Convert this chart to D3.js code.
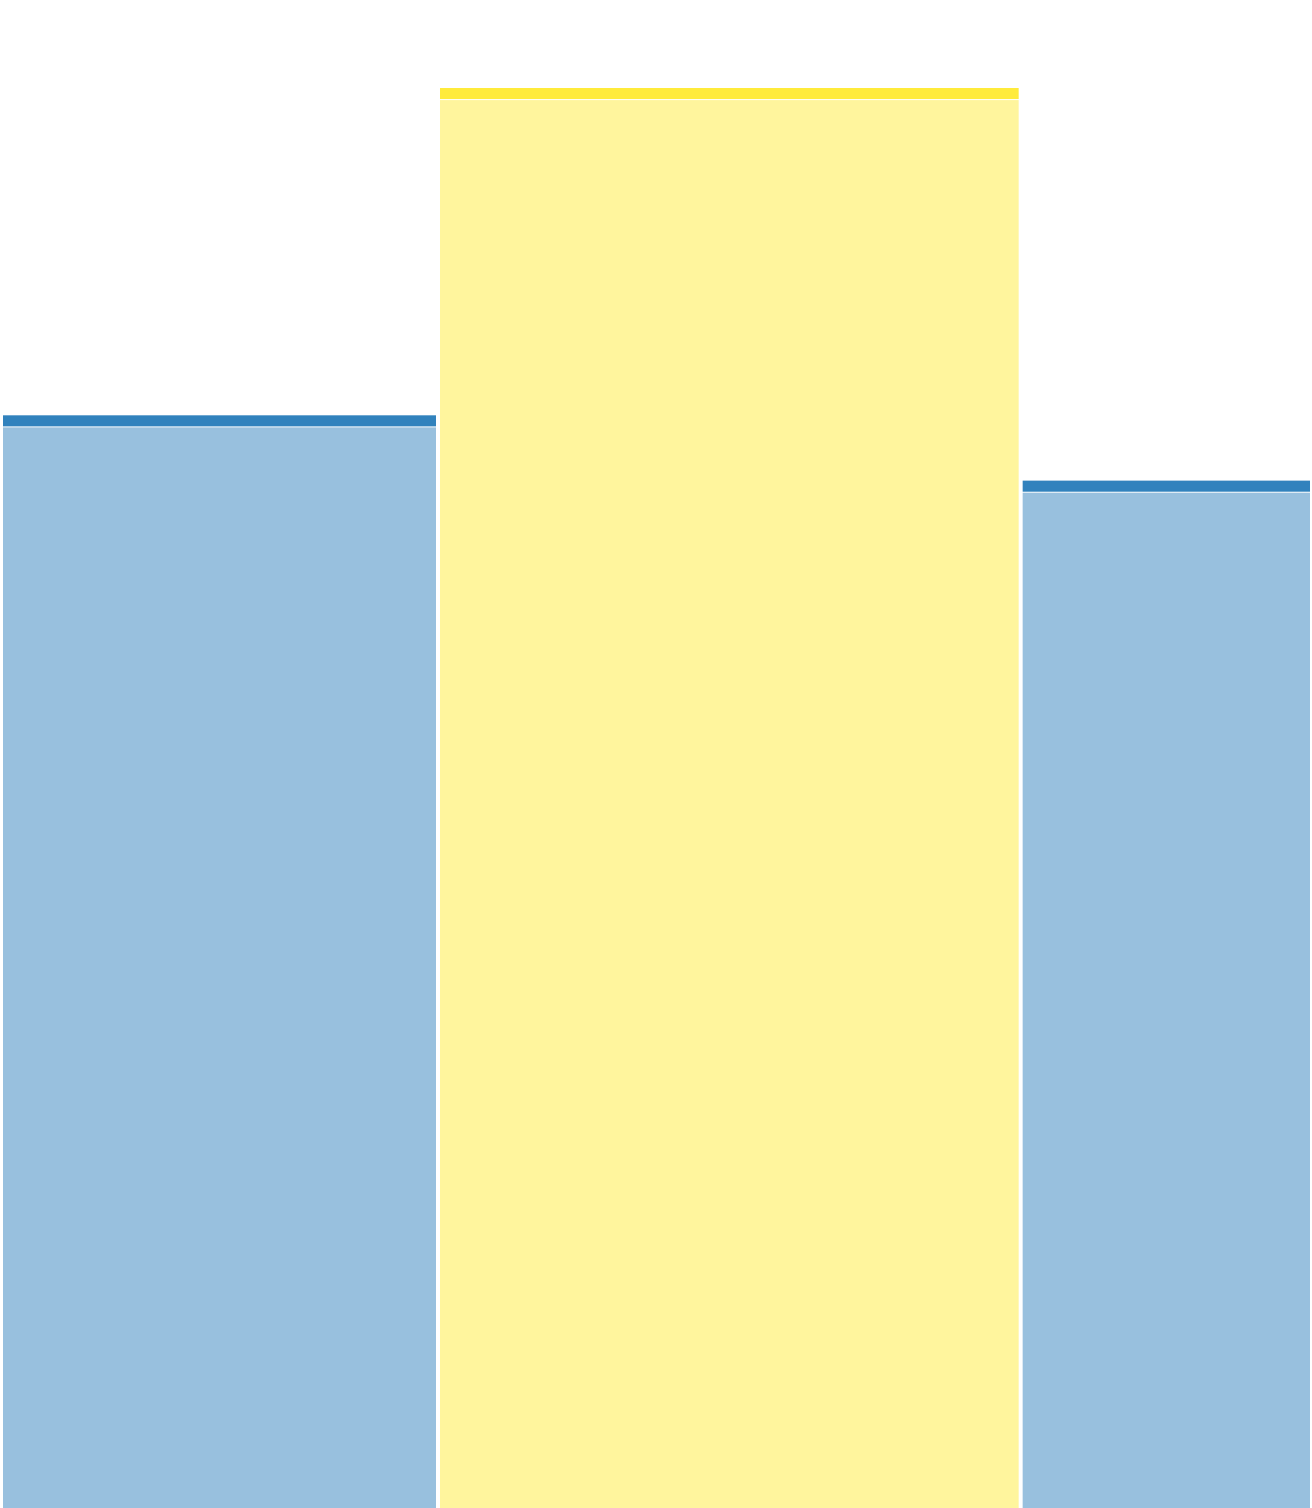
<!DOCTYPE html>
<html lang="en">
<head>
<meta charset="UTF-8">
<title>Variable width bars</title>
<script src="https://d3js.org/d3.v7.min.js"></script>
<style>
  body { margin: 0; background: #fff; }
  svg { display: block; }
</style>
</head>
<body>
<svg id="chart"></svg>
<script>
const width = 1312, height = 1508;

// ==== data ====
const categories = ["A", "B", "C"];
const shares = [3, 4, 2];            // bar widths
const mainValues = [76.1, 99.15, 71.5];
const capValues = [0.85, 0.85, 0.85];
const colors = ["#3182bd", "#ffeb3b", "#3182bd"];

const svg = d3.select("#chart").attr("width", width).attr("height", height);

const totalShare = d3.sum(shares);
const x = d3.scaleLinear().domain([0, totalShare]).range([1, width]);
const maxTotal = d3.max(mainValues.map((v, i) => v + capValues[i]));
const y = d3.scaleLinear().domain([0, maxTotal]).range([height, 88]);

// cumulative start for each bar
let acc = 0;
const bars = categories.map((c, i) => {
  const d = { cat: c, x0: acc, x1: acc + shares[i], main: mainValues[i], cap: capValues[i], color: colors[i] };
  acc += shares[i];
  return d;
});

const hPad = 2, vGap = 1;

const g = svg.selectAll("g.bar")
  .data(bars)
  .enter()
  .append("g")
  .attr("class", "bar");

// light body
g.append("rect")
  .attr("x", d => x(d.x0) + hPad)
  .attr("width", d => x(d.x1) - x(d.x0) - 2 * hPad)
  .attr("y", d => y(d.main))
  .attr("height", d => y(0) - y(d.main))
  .attr("fill", d => d.color)
  .attr("fill-opacity", 0.5);

// dark cap on top
g.append("rect")
  .attr("x", d => x(d.x0) + hPad)
  .attr("width", d => x(d.x1) - x(d.x0) - 2 * hPad)
  .attr("y", d => y(d.main + d.cap))
  .attr("height", d => y(d.main) - y(d.main + d.cap) - vGap)
  .attr("fill", d => d.color);
</script>
</body>
</html>
